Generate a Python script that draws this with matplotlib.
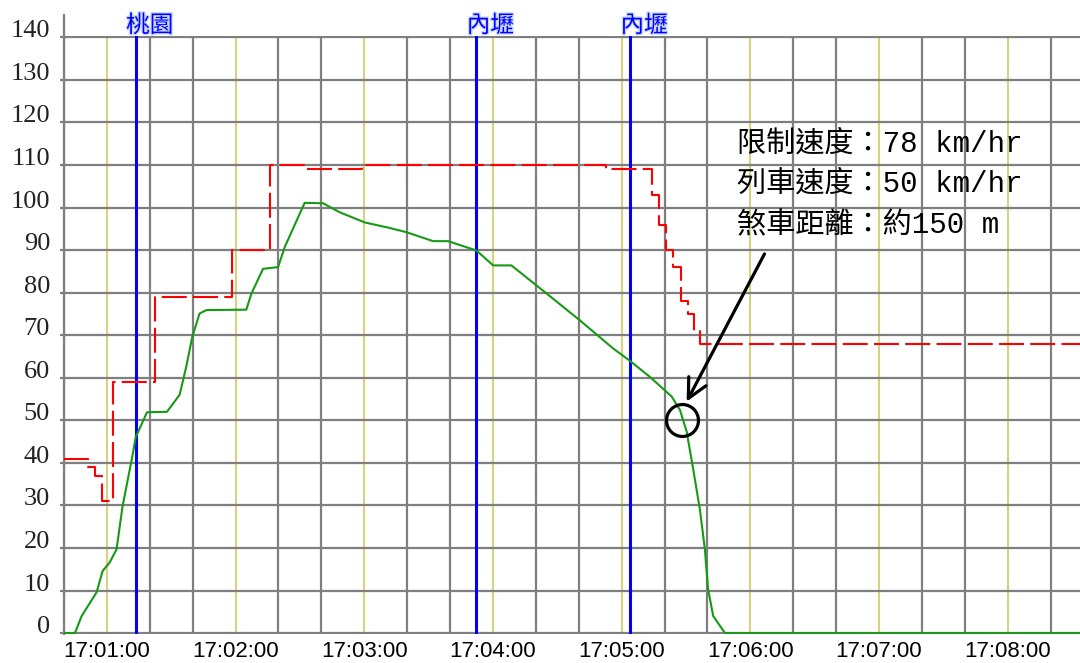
import matplotlib.pyplot as plt
from matplotlib.ticker import MultipleLocator, FuncFormatter
import matplotlib.patheffects as pe

# times are seconds after 17:00:00
limit_t = [40, 51.0, 54.3, 57.5, 62.7, 82.2, 118.2, 135.9, 152.2, 178.8, 292.6,
           314.0, 317.3, 320.6, 323.8, 327.6, 330.8, 333.6, 336.4, 513.7]
limit_v = [41, 39, 37, 31, 59, 79, 90, 110, 109, 110, 109,
           103, 96, 90, 86, 78, 75, 71, 68, 68]

train_t = [40, 45.1, 48.2, 55.2, 58.0, 61.3, 64.5, 67.3, 72.0, 73.4, 78.7, 88.0,
           93.9, 97.0, 99.8, 103.2, 106.4, 125.0, 127.4, 132.8, 139.8, 142.9,
           152.2, 160.8, 168.5, 180.2, 191.8, 199.7, 212.1, 219.1, 232.3, 240.1,
           248.6, 265.0, 280.5, 296.0, 303.8, 313.2, 323.3, 327.2, 330.3, 333.4,
           336.5, 338.8, 340.3, 342.7, 348.2, 513.7]
train_v = [0, 0, 4, 9.6, 14.6, 16.6, 19.7, 29.8, 41.9, 46, 51.9, 52,
           56, 62.6, 69.6, 75.1, 75.9, 76, 79.8, 85.6, 86, 90.7,
           101.1, 101, 98.9, 96.5, 95.2, 94.2, 92.1, 92.1, 89.9, 86.4,
           86.4, 79.8, 73.5, 66.9, 64, 60.2, 55.6, 52.4, 47.4, 38.4,
           29, 19.7, 10.3, 4, 0, 0]

stations = ['桃園', '內壢', '內壢']
station_t = [73.5, 232.3, 304.0]

notes = ['限制速度：78 km/hr', '列車速度：50 km/hr', '煞車距離：約150 m']
note_t = 353.7
note_v = [115.0, 105.6, 95.8]

mark_t, mark_v = 328, 50
arrow_from = (366.6, 89.1)
arrow_to = (330.3, 54.4)

t_min, t_max = 40, 513.7
gray = '#7f7f7f'

fig = plt.figure(figsize=(10.8, 6.63), dpi=100)
ax = fig.add_axes([64 / 1080, 29 / 663, 1016 / 1080, 598 / 663])
ax.set_xlim(t_min, t_max)
ax.set_ylim(-0.2, 140.3)

ax.xaxis.set_major_locator(MultipleLocator(60))
ax.xaxis.set_minor_locator(MultipleLocator(20))
ax.xaxis.set_major_formatter(FuncFormatter(
    lambda s, p: f"17:{int(s // 60):02d}:{int(round(s % 60)):02d}"))
ax.set_yticks(range(0, 141, 10))

ax.set_axisbelow(True)
ax.grid(which='major', axis='x', color='#d6d27e', lw=1.5)
ax.grid(which='minor', axis='x', color=gray, lw=1.6)
ax.grid(which='major', axis='y', color=gray, lw=1.6)

for s in ['top', 'right', 'bottom']:
    ax.spines[s].set_visible(False)
ax.spines['left'].set_color(gray)
ax.spines['left'].set_linewidth(1.6)
ax.plot([t_min, t_min], [140, 145.2], color=gray, lw=1.6, clip_on=False)

ax.tick_params(axis='x', which='both', length=0, pad=5)
ax.tick_params(axis='y', length=3, width=1.6, color=gray, pad=7)
for lbl in ax.get_xticklabels():
    lbl.set_fontfamily('Liberation Sans')
    lbl.set_fontsize(16)
for lbl in ax.get_yticklabels():
    lbl.set_fontfamily('Liberation Serif')
    lbl.set_fontsize(19)
    lbl.set_color('#222222')
    lbl.set_verticalalignment('baseline')

# station markers
for name, t in zip(stations, station_t):
    ax.axvline(t, ymax=140 / 140.3, color='#0000ff', lw=2.2, zorder=2)
    ax.annotate(name, (t, 140), xytext=(-7, 0), textcoords='offset points',
                ha='left', va='bottom', color='#0000ff', fontsize=17,
                family=['Noto Sans CJK TC'], annotation_clip=False,
                path_effects=[pe.withStroke(linewidth=2, foreground='#c8d8ff')])

ax.plot(limit_t, limit_v, drawstyle='steps-post', color='#ff0000', lw=1.5,
        ls=(0, (12, 3)), zorder=3)
ax.plot(train_t, train_v, color='#169a16', lw=1.5, zorder=4)

# braking point annotation
ax.plot([mark_t], [mark_v], marker='o', ms=23, mfc='none', mec='black',
        mew=2.3, zorder=5)
ax.annotate('', xy=arrow_to, xytext=arrow_from,
            arrowprops=dict(arrowstyle='->,head_length=0.7,head_width=0.35',
                            mutation_scale=20, lw=2.3, color='black',
                            shrinkA=0, shrinkB=0), zorder=5)
for txt, v in zip(notes, note_v):
    ax.text(note_t, v, txt, ha='left', va='center', fontsize=21,
            fontweight='medium',
            family=['Liberation Mono', 'Noto Sans CJK TC'], color='black',
            zorder=6)

fig.savefig('out.png', dpi=100)
